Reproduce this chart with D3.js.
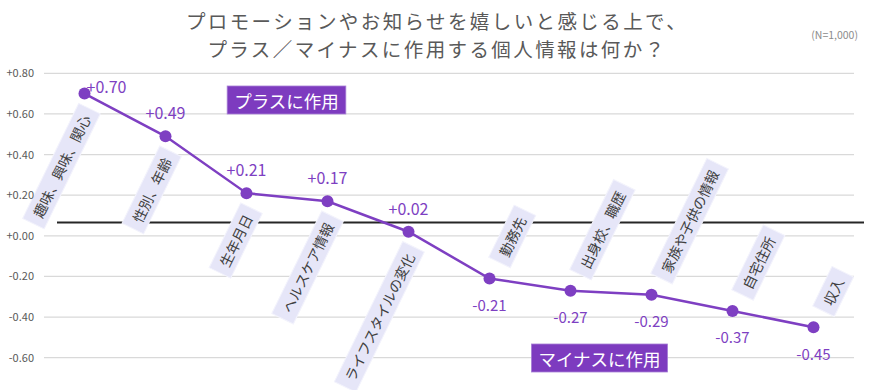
<!DOCTYPE html>
<html>
<head>
<meta charset="utf-8">
<script src="https://cdn.jsdelivr.net/npm/d3@7"></script>
<style>
  body { margin: 0; background: #fff; }
  svg { font-family: "Noto Sans CJK JP", "Noto Sans", sans-serif; }
</style>
</head>
<body>
<svg id="chart" width="870" height="390"></svg>
<script>
// ---- data ----
const categories = ["趣味、興味、関心", "性別、年齢", "生年月日", "ヘルスケア情報", "ライフスタイルの変化",
                    "勤務先", "出身校、職歴", "家族や子供の情報", "自宅住所", "収入"];
const values = [0.70, 0.49, 0.21, 0.17, 0.02, -0.21, -0.27, -0.29, -0.37, -0.45];
const yTicks = [0.8, 0.6, 0.4, 0.2, 0.0, -0.2, -0.4, -0.6];
const referenceLine = 0.065;
const titleLines = ["プロモーションやお知らせを嬉しいと感じる上で、", "プラス／マイナスに作用する個人情報は何か？"];
const sampleNote = "(N=1,000)";
const plusLabel = "プラスに作用";
const minusLabel = "マイナスに作用";

// ---- layout ----
const svg = d3.select("#chart");
const left = 44, right = 854;
const x = d3.scaleBand().domain(categories).range([left, right]);
const y = d3.scaleLinear().domain([-0.6, 0.8]).range([357.7, 73.3]);
const purple = "#7e3fc2";
const fmt = v => (v > 0 ? "+" : v < 0 ? "-" : "+") + Math.abs(v).toFixed(2);

// title
svg.append("g").selectAll("text").data(titleLines).join("text")
  .attr("x", 437).attr("y", (d, i) => 20 + i * 28.5)
  .attr("text-anchor", "middle").attr("dominant-baseline", "central")
  .attr("font-size", 19.5).attr("letter-spacing", 2.4).attr("fill", "#595959")
  .text(d => d);
svg.append("text").attr("x", 858).attr("y", 34).attr("text-anchor", "end")
  .attr("dominant-baseline", "central")
  .attr("font-size", 10.5).attr("fill", "#8c8c8c").text(sampleNote);

// gridlines
svg.append("g").selectAll("line").data(yTicks).join("line")
  .attr("x1", left).attr("x2", right)
  .attr("y1", d => y(d)).attr("y2", d => y(d))
  .attr("stroke", "#d9d9d9").attr("stroke-width", 1.3);

// reference line
svg.append("line").attr("x1", 57).attr("x2", 864)
  .attr("y1", y(referenceLine)).attr("y2", y(referenceLine))
  .attr("stroke", "#262626").attr("stroke-width", 2);

// category labels (rotated boxes)
const ang = -64;
const fs = 14, padL = 8, boxH = 24;
const cx = i => x(categories[i]) + x.bandwidth() / 2;
const lab = svg.append("g");
categories.forEach((c, i) => {
  const v = values[i];
  const px = cx(i), py = y(v);
  const g = lab.append("g");
  const t = g.append("text").attr("font-size", fs).attr("fill", "#404040")
    .attr("dominant-baseline", "central").text(c);
  const len = t.node().getComputedTextLength();
  const L = len + padL * 2;
  if (v >= 0) {
    g.attr("transform", `translate(${px + 5},${py + 15}) rotate(${ang})`);
    g.insert("rect", "text").attr("x", -L).attr("y", -boxH / 2).attr("width", L).attr("height", boxH)
      .attr("fill", "#e6e6f8").attr("stroke", "#f3f3fc").attr("stroke-width", 1);
    t.attr("x", -padL).attr("text-anchor", "end");
  } else {
    g.attr("transform", `translate(${px + 10},${py - 16}) rotate(${ang})`);
    g.insert("rect", "text").attr("x", 0).attr("y", -boxH / 2).attr("width", L).attr("height", boxH)
      .attr("fill", "#e6e6f8").attr("stroke", "#f3f3fc").attr("stroke-width", 1);
    t.attr("x", padL).attr("text-anchor", "start");
  }
});

// y axis labels
const yAxis = d3.axisLeft(y).tickValues(yTicks).tickSize(0).tickPadding(0).tickFormat(fmt);
const ya = svg.append("g").attr("transform", "translate(34,0)").call(yAxis);
ya.select(".domain").remove();
ya.selectAll("text").attr("font-size", 11).attr("fill", "#595959")
  .attr("font-family", "\"Noto Sans CJK JP\", sans-serif");

// line + markers
const line = d3.line().x((d, i) => cx(i)).y(d => y(d));
svg.append("path").datum(values).attr("d", line)
  .attr("fill", "none").attr("stroke", purple).attr("stroke-width", 2.5);
svg.append("g").selectAll("circle").data(values).join("circle")
  .attr("cx", (d, i) => cx(i)).attr("cy", d => y(d)).attr("r", 6).attr("fill", purple);

// value labels
svg.append("g").selectAll("text").data(values).join("text")
  .attr("x", (d, i) => {
    const py = y(d);
    return (d >= 0 && py - 24 < y(0.8) + 10) ? cx(i) + 22 : cx(i);
  })
  .attr("y", d => {
    const py = y(d);
    if (d >= 0) return (py - 24 < y(0.8) + 10) ? py - 8 : py - 24;
    return py + 26;
  })
  .attr("text-anchor", "middle").attr("dominant-baseline", "central")
  .attr("font-size", d => d >= 0 ? 16 : 15).attr("fill", purple)
  .text(fmt);

// legend boxes
function tag(text, xc, yc) {
  const g = svg.append("g");
  const t = g.append("text").attr("x", xc).attr("y", yc).attr("text-anchor", "middle")
    .attr("dominant-baseline", "central").attr("font-size", 17.5).attr("fill", "#ffffff").text(text);
  const w = t.node().getComputedTextLength() + 14;
  g.insert("rect", "text").attr("x", xc - w / 2).attr("y", yc - 14).attr("width", w).attr("height", 28)
    .attr("fill", "#7d3bbf").attr("stroke", "#a77fd6").attr("stroke-width", 0.8);
}
tag(plusLabel, 286.5, 100);
tag(minusLabel, 599.5, 358);
</script>
</body>
</html>
